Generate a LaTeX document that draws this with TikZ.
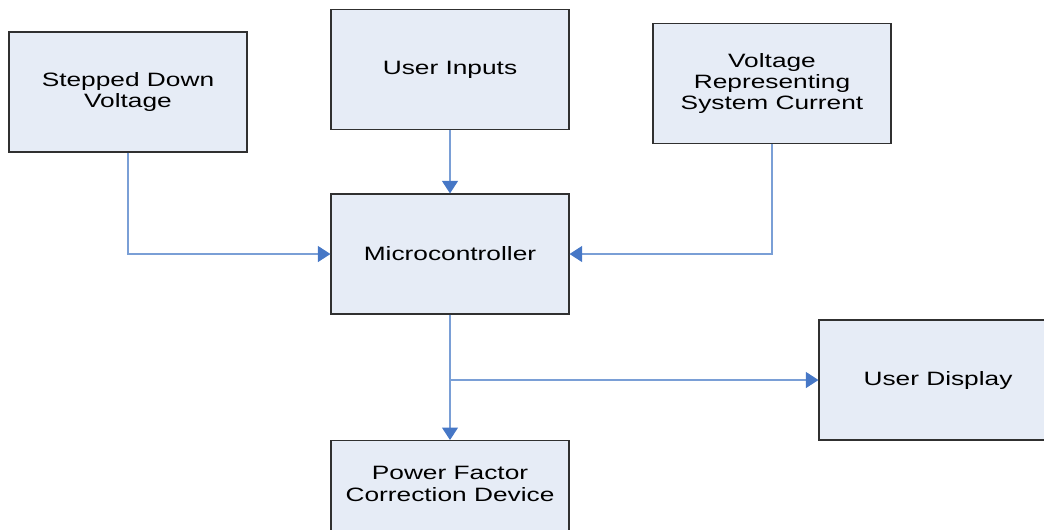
\documentclass[tikz,border=0pt]{standalone}
\usepackage{fontspec}
\setmainfont{Liberation Sans}[FakeStretch=1.36]
\usepackage{tikz}
\usetikzlibrary{arrows.meta,positioning,calc}
\definecolor{boxfill}{HTML}{E6ECF6}
\definecolor{boxline}{HTML}{303030}
\definecolor{wire}{HTML}{7A9FD6}
\definecolor{tipblue}{HTML}{4677C6}

\begin{document}
\begin{tikzpicture}[x=0.02cm,y=-0.02cm,font=\fontsize{11}{12.2}\selectfont,
  blk/.style={rectangle,draw=boxline,line width=0.7pt,fill=boxfill,align=center,
    minimum width=4.76cm,minimum height=2.4cm,inner sep=2pt},
  link/.style={draw=wire,line width=0.6pt,
    -{Triangle[length=0.25cm,width=0.32cm,color=tipblue]}}]
  \clip (0,0) rectangle (1044,529);
  % input blocks
  \node[blk] (sdv) at (128,92) {Stepped Down\\Voltage};
  \node[blk] (uin) at (450,69.5) {User Inputs};
  \node[blk] (vsc) at (772,83.5) {Voltage\\Representing\\System Current};
  % controller and outputs
  \node[blk] (mcu) at (450,254) {Microcontroller};
  \node[blk] (udisp) at (938,380) {User Display};
  \node[blk,anchor=north] (pfc) at (450,440) {};
  \node[align=center] (pfctxt) at (450,484) {Power Factor\\Correction Device};
  \coordinate (split) at (450,380);
  % connectors
  \draw[link] (sdv.south) |- (mcu.west);
  \draw[link] (uin) -- (mcu);
  \draw[link] (vsc.south) |- (mcu.east);
  \draw[link] (mcu) -- (pfc);
  \draw[link] (split) -- (udisp.west);
\end{tikzpicture}
\end{document}
